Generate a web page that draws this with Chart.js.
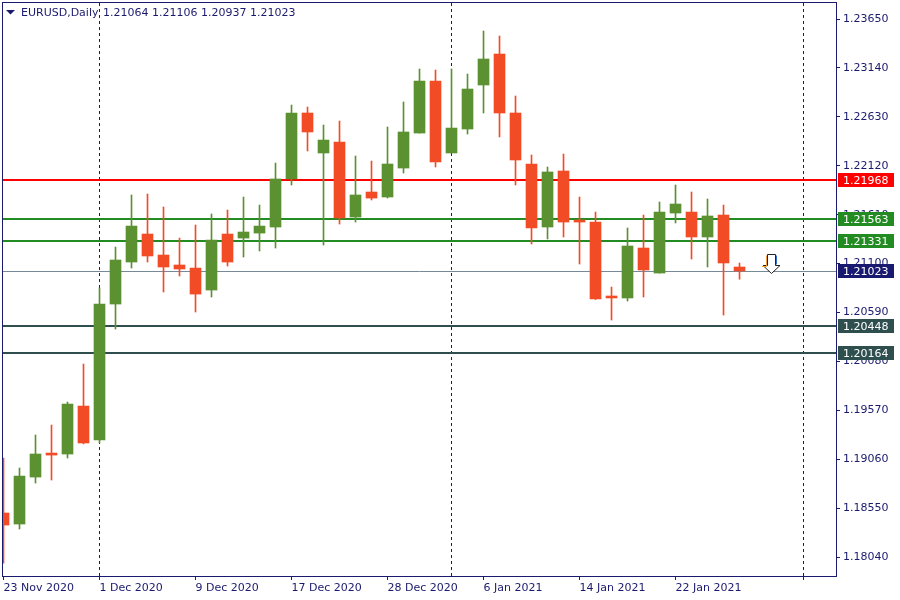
<!DOCTYPE html>
<html>
<head>
<meta charset="utf-8">
<title>EURUSD Daily</title>
<script src="https://cdn.jsdelivr.net/npm/chart.js@4.4.1/dist/chart.umd.min.js"></script>
<style>
  html, body { margin: 0; padding: 0; background: #ffffff; }
  #wrap { width: 900px; height: 600px; }
</style>
</head>
<body>
<div id="wrap"><canvas id="chart" width="900" height="600"></canvas></div>
<script>
// candle data
const dates = [
  '23 Nov 2020', '24 Nov 2020', '25 Nov 2020', '26 Nov 2020', '27 Nov 2020', '30 Nov 2020',
  '1 Dec 2020', '2 Dec 2020', '3 Dec 2020', '4 Dec 2020', '7 Dec 2020', '8 Dec 2020',
  '9 Dec 2020', '10 Dec 2020', '11 Dec 2020', '14 Dec 2020', '15 Dec 2020', '16 Dec 2020',
  '17 Dec 2020', '18 Dec 2020', '21 Dec 2020', '22 Dec 2020', '23 Dec 2020', '24 Dec 2020',
  '28 Dec 2020', '29 Dec 2020', '30 Dec 2020', '31 Dec 2020', '4 Jan 2021', '5 Jan 2021',
  '6 Jan 2021', '7 Jan 2021', '8 Jan 2021', '11 Jan 2021', '12 Jan 2021', '13 Jan 2021',
  '14 Jan 2021', '15 Jan 2021', '18 Jan 2021', '19 Jan 2021', '20 Jan 2021', '21 Jan 2021',
  '22 Jan 2021', '25 Jan 2021', '26 Jan 2021', '27 Jan 2021', '28 Jan 2021'
];
const opens = [1.18499, 1.18384, 1.18874, 1.19124, 1.19114, 1.19614, 1.19260, 1.20678, 1.21116, 1.21408,
  1.21189, 1.21085, 1.21053, 1.20824, 1.21408, 1.21366, 1.21418, 1.21481, 1.21982, 1.22670,
  1.22253, 1.22367, 1.21585, 1.21846, 1.21794, 1.22096, 1.22461, 1.23003, 1.22253, 1.22503,
  1.22962, 1.23285, 1.22670, 1.22138, 1.21481, 1.22065, 1.21544, 1.21533, 1.20761, 1.20741,
  1.21262, 1.21001, 1.21627, 1.21637, 1.21377, 1.21606, 1.21064];
const highs = [1.19072, 1.18968, 1.19312, 1.19416, 1.19656, 1.20052, 1.20845, 1.21272, 1.21815, 1.21825,
  1.21690, 1.21366, 1.21502, 1.21617, 1.21658, 1.21794, 1.21710, 1.22148, 1.22753, 1.22732,
  1.22545, 1.22586, 1.22221, 1.22169, 1.22524, 1.22785, 1.23129, 1.23118, 1.23129, 1.23076,
  1.23525, 1.23473, 1.22847, 1.22232, 1.22107, 1.22242, 1.21794, 1.21637, 1.20855, 1.21471,
  1.21606, 1.21742, 1.21919, 1.21846, 1.21773, 1.21710, 1.21106];
const lows = [1.17977, 1.18332, 1.18811, 1.18843, 1.19072, 1.19220, 1.19229, 1.20417, 1.21053, 1.21116,
  1.20803, 1.20970, 1.20595, 1.20751, 1.21074, 1.21168, 1.21231, 1.21262, 1.21919, 1.22274,
  1.21293, 1.21512, 1.21533, 1.21763, 1.21783, 1.22044, 1.22461, 1.22107, 1.22253, 1.22451,
  1.22670, 1.22420, 1.21919, 1.21304, 1.21356, 1.21377, 1.21095, 1.20725, 1.20511, 1.20709,
  1.20751, 1.21001, 1.21523, 1.21147, 1.21064, 1.20563, 1.20937];
const closes = [1.18373, 1.18884, 1.19114, 1.19103, 1.19635, 1.19229, 1.20678, 1.21137, 1.21491, 1.21179,
  1.21064, 1.21043, 1.20782, 1.21345, 1.21116, 1.21429, 1.21491, 1.21982, 1.22670, 1.22472,
  1.22388, 1.21575, 1.21815, 1.21783, 1.22138, 1.22472, 1.23003, 1.22159, 1.22513, 1.22920,
  1.23233, 1.22670, 1.22180, 1.21471, 1.22055, 1.21533, 1.21533, 1.20730, 1.20741, 1.21283,
  1.21033, 1.21637, 1.21721, 1.21377, 1.21596, 1.21106, 1.21023];

// axis ticks
const xTickIdx = [0, 6, 12, 18, 24, 30, 36, 42, 50];
const yTicks = [1.18040, 1.18550, 1.19060, 1.19570, 1.20080, 1.20590, 1.21100, 1.21610, 1.22120, 1.22630, 1.23140, 1.23650];
const separatorIdx = [6, 28, 50];

// horizontal levels
const levelPrices = [1.21968, 1.21563, 1.21331, 1.20448, 1.20164];
const levelColors = ['#ff0000', '#228b22', '#228b22', '#2f4f4f', '#2f4f4f'];

const symbol = 'EURUSD,Daily';
const arrowIdx = 48;
const arrowPrice = 1.21199;

const navy = '#1a1a6e';
const upColor = '#5b9130';
const downColor = '#f24c27';
const candleColors = opens.map((o, i) => closes[i] >= o ? upColor : downColor);
const last = closes.length - 1;

Chart.defaults.font.family = "'DejaVu Sans', sans-serif";
Chart.defaults.font.size = 11;
Chart.defaults.color = navy;

const overlay = {
  id: 'overlay',
  beforeDatasetsDraw(chart) {
    const c = chart.ctx, a = chart.chartArea;
    const x = chart.scales.x, y = chart.scales.y;
    c.save();
    // period separators
    c.strokeStyle = navy;
    c.lineWidth = 1;
    c.setLineDash([3, 3]);
    separatorIdx.forEach(i => {
      const px = Math.round(x.getPixelForValue(i)) - 0.5;
      c.beginPath(); c.moveTo(px, a.top); c.lineTo(px, a.bottom); c.stroke();
    });
    c.setLineDash([]);
    // level lines
    levelPrices.forEach((p, i) => {
      const py = Math.round(y.getPixelForValue(p));
      c.strokeStyle = levelColors[i];
      c.lineWidth = 2;
      c.beginPath(); c.moveTo(a.left, py); c.lineTo(a.right, py); c.stroke();
    });
    // current price line
    const cy = Math.round(y.getPixelForValue(closes[last])) + 0.5;
    c.strokeStyle = '#778899';
    c.lineWidth = 1;
    c.beginPath(); c.moveTo(a.left, cy); c.lineTo(a.right, cy); c.stroke();
    c.restore();
  },
  afterDraw(chart) {
    const c = chart.ctx, a = chart.chartArea;
    const x = chart.scales.x, y = chart.scales.y;
    c.save();
    // frame
    c.strokeStyle = navy;
    c.lineWidth = 1;
    c.strokeRect(a.left - 0.5, a.top - 0.5, a.right - a.left + 1, a.bottom - a.top + 1);

    // price boxes on the right axis
    c.font = "11px 'DejaVu Sans', sans-serif";
    c.textBaseline = 'middle';
    c.textAlign = 'left';
    const box = (p, col) => {
      const py = Math.round(y.getPixelForValue(p));
      c.fillStyle = col;
      c.fillRect(a.right + 2, py - 7, 56, 14);
      c.fillStyle = '#ffffff';
      c.fillText(p.toFixed(5), a.right + 7, py + 1);
    };
    levelPrices.forEach((p, i) => box(p, levelColors[i]));
    box(closes[last], '#191970');

    // header
    c.fillStyle = navy;
    c.beginPath(); c.moveTo(6, 10); c.lineTo(15, 10); c.lineTo(10.5, 14.5); c.closePath(); c.fill();
    c.fillText(symbol, 21, 13);
    const ohlc = [opens[last], highs[last], lows[last], closes[last]].map(v => v.toFixed(5)).join(' ');
    c.fillText(ohlc, 103, 13);

    // sell arrow
    const ax = Math.round(x.getPixelForValue(arrowIdx)) - 0.5;
    const ay = Math.round(y.getPixelForValue(arrowPrice)) + 0.5;
    c.beginPath();
    c.moveTo(ax - 4, ay); c.lineTo(ax + 4, ay); c.lineTo(ax + 4, ay + 11);
    c.lineTo(ax + 8.5, ay + 11); c.lineTo(ax, ay + 19); c.lineTo(ax - 8.5, ay + 11);
    c.lineTo(ax - 4, ay + 11); c.closePath();
    c.fillStyle = '#ffffff'; c.fill();
    c.strokeStyle = '#222222'; c.stroke();
    c.strokeStyle = '#f0a030';
    c.beginPath(); c.moveTo(ax - 5, ay + 1); c.lineTo(ax - 5, ay + 12); c.lineTo(ax - 9.5, ay + 12); c.stroke();
    c.strokeStyle = '#3070d0';
    c.beginPath(); c.moveTo(ax + 5, ay + 1); c.lineTo(ax + 5, ay + 10); c.stroke();
    c.restore();
  }
};

const ctx = document.getElementById('chart').getContext('2d');
new Chart(ctx, {
  type: 'bar',
  data: {
    datasets: [{
      label: 'body',
      data: opens.map((o, i) => ({ x: i, y: [o, closes[i]] })),
      backgroundColor: candleColors,
      borderWidth: 0,
      barThickness: 11,
      minBarLength: 2,
      grouped: false,
      order: 0,
      clip: 0
    }, {
      label: 'wick',
      data: highs.map((h, i) => ({ x: i, y: [lows[i], h] })),
      backgroundColor: candleColors,
      borderWidth: 0,
      barThickness: 1,
      grouped: false,
      order: 1,
      clip: 0
    }]
  },
  options: {
    responsive: false,
    animation: false,
    layout: { padding: { left: 3, top: 3, right: 0, bottom: 0 } },
    plugins: { legend: { display: false }, tooltip: { enabled: false } },
    scales: {
      x: {
        type: 'linear',
        min: -0.03125,
        max: 52.03,
        offset: false,
        grid: { offset: false, drawOnChartArea: false, tickLength: 4, color: navy },
        border: { color: navy },
        ticks: {
          autoSkip: false, maxRotation: 0, align: 'start', padding: 2,
          callback: v => dates[v] && xTickIdx.indexOf(v) >= 0 ? dates[v] : ''
        },
        afterBuildTicks: s => { s.ticks = xTickIdx.map(v => ({ value: v })); },
        afterFit: s => { s.height = 24; s.paddingLeft = 0; s.paddingRight = 0; }
      },
      y: {
        type: 'linear',
        position: 'right',
        min: 1.17842,
        max: 1.23817,
        grid: { drawOnChartArea: false, tickLength: 4, color: navy },
        border: { color: navy },
        ticks: { padding: 3, callback: v => v.toFixed(5) },
        afterBuildTicks: s => { s.ticks = yTicks.map(v => ({ value: v })); },
        afterFit: s => { s.width = 64; s.paddingTop = 0; s.paddingBottom = 0; }
      }
    }
  },
  plugins: [overlay]
});
</script>
</body>
</html>
